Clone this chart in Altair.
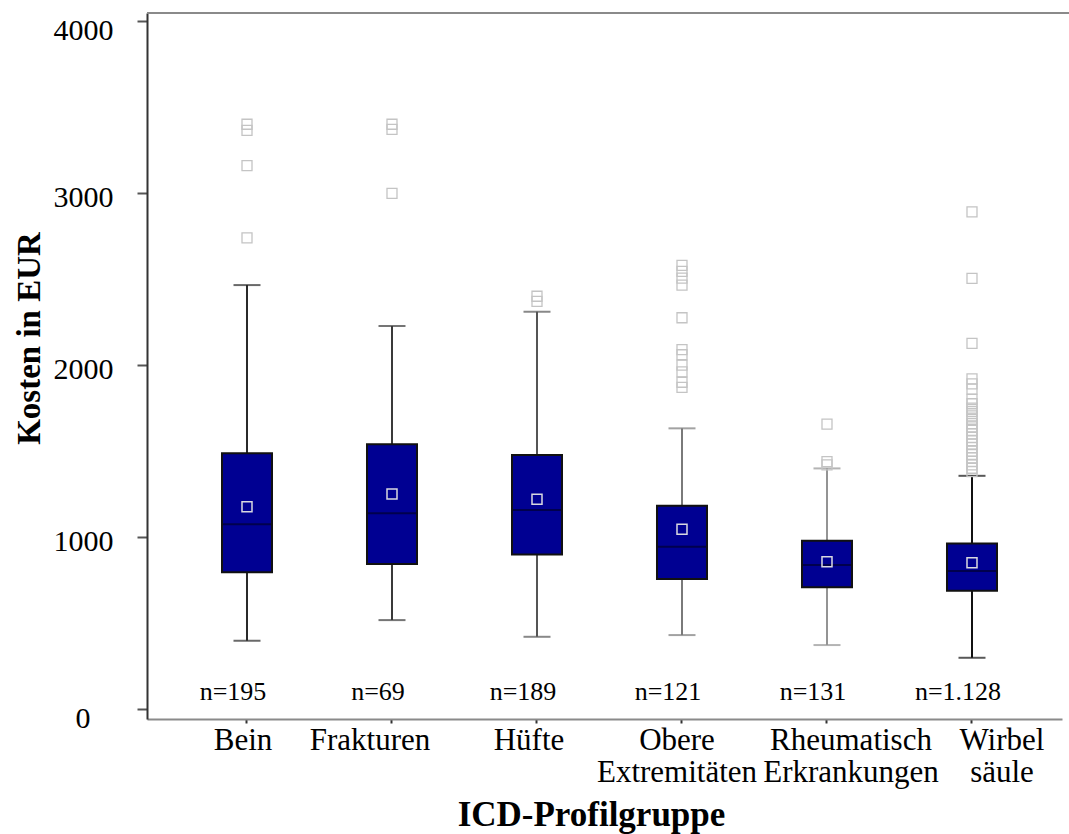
import altair as alt
import pandas as pd

# ---------------- data ----------------
categories = ["Bein", "Frakturen", "Hüfte", "Obere\nExtremitäten",
              "Rheumatisch\nErkrankungen", "Wirbel\nsäule"]
q1 = [795, 843, 899, 756, 708, 688]
q3 = [1487, 1539, 1477, 1182, 978, 963]
median = [1074, 1138, 1157, 944, 837, 802]
mean = [1176, 1250, 1220, 1045, 856, 851]
whisker_low = [397, 517, 420, 430, 372, 298]
whisker_high = [2465, 2227, 2310, 1632, 1399, 1356]
n_labels = ["n=195", "n=69", "n=189", "n=121", "n=131", "n=1.128"]

outliers_bein = [3400, 3365, 3160, 2740]
outliers_frakturen = [3400, 3370, 2998]
outliers_huefte = [2400, 2370]
outliers_obere = [2580, 2545, 2505, 2465, 2275, 2090, 2060, 2000, 1960, 1900, 1870]
outliers_rheuma = [1657, 1438, 1420]
outliers_wirbel = [2891, 2504, 2126, 1920, 1890, 1860, 1800, 1775, 1750, 1730,
                   1705, 1685, 1660, 1640, 1620, 1600, 1580, 1560, 1540, 1520,
                   1500, 1480, 1460, 1440, 1420, 1400, 1380]

y_ticks = [0, 1000, 2000, 3000, 4000]
n_label_level = 100

# ---------------- style ----------------
whisker_colors = ["#2a2a2a", "#3a3a3a", "#555555", "#7a7a7a", "#949494", "#111111"]
FONT = "Liberation Serif"

box_df = pd.DataFrame({
    "cat": categories, "q1": q1, "q3": q3, "median": median, "mean": mean,
    "lo": whisker_low, "hi": whisker_high, "n": n_labels,
})
all_out = [outliers_bein, outliers_frakturen, outliers_huefte,
           outliers_obere, outliers_rheuma, outliers_wirbel]
out_df = pd.DataFrame({
    "cat": [c for c, vals in zip(categories, all_out) for _ in vals],
    "val": [v for vals in all_out for v in vals],
})

# horizontal nudges of the category labels, as in the reference layout
label_nudge = {
    "condition": [
        {"test": "datum.value == 'Bein'", "value": -4},
        {"test": "datum.value == 'Frakturen'", "value": -22},
        {"test": "datum.value == 'Hüfte'", "value": -8},
        {"test": "indexof(datum.value, 'Obere') == 0", "value": -5},
        {"test": "indexof(datum.value, 'Rheumatisch') == 0", "value": 24},
        {"test": "indexof(datum.value, 'Wirbel') == 0", "value": 30},
    ],
    "value": 0,
}

xscale = alt.Scale(domain=categories, paddingInner=0, paddingOuter=0.1552, align=0.611)
xaxis = alt.Axis(
    title="ICD-Profilgruppe", titleFont=FONT, titleFontSize=35, titleFontWeight="bold",
    titleColor="black", titleX=444, titleY=106, titleBaseline="alphabetic", titleAlign="center",
    labelFont=FONT, labelFontSize=31, labelColor="black", labelAngle=0,
    labelPadding=2, labelLineHeight=32, labelOffset=label_nudge,
    labelExpr="split(datum.label, '\\n')",
    domainColor="#8a8a8a", domainWidth=2,
    tickColor="#333333", tickWidth=2, tickSize=4,
)
yscale = alt.Scale(domain=[-58, 4047], nice=False, zero=False)
yaxis = alt.Axis(
    title="Kosten in EUR", titleFont=FONT, titleFontSize=33, titleFontWeight="bold",
    titleColor="black", titleX=-108, titleY=325, titleAngle=270,
    titleBaseline="alphabetic", titleAlign="center",
    values=y_ticks, format="d", grid=False,
    labelFont=FONT, labelFontSize=30, labelColor="black",
    labelPadding={"condition": {"test": "datum.value == 0", "value": 47}, "value": 24},
    labelOffset={"condition": {"test": "datum.value == 0 || datum.value == 4000", "value": 9}, "value": 4},
    domainColor="#333333", domainWidth=2,
    tickColor="#555555", tickWidth=2, tickSize=10,
)


def X():
    return alt.X("cat:N", sort=categories, scale=xscale, axis=xaxis)


def Y(field):
    return alt.Y(field, scale=yscale, axis=yaxis)


wcolor = alt.Color("cat:N", scale=alt.Scale(domain=categories, range=whisker_colors), legend=None)

base = alt.Chart(box_df)

whiskers = base.mark_rule(strokeWidth=2).encode(x=X(), y=Y("lo:Q"), y2="hi:Q", color=wcolor)
cap_lo = base.mark_tick(size=27, thickness=2).encode(x=X(), y=Y("lo:Q"), color=wcolor)
cap_hi = base.mark_tick(size=27, thickness=2).encode(x=X(), y=Y("hi:Q"), color=wcolor)
boxes = base.mark_bar(size=50, color="#000092", stroke="#111111", strokeWidth=2).encode(
    x=X(), y=Y("q1:Q"), y2="q3:Q")
medians = base.mark_tick(size=48, thickness=2, color="#000030").encode(x=X(), y=Y("median:Q"))
means = base.mark_point(shape="square", size=100, filled=False, color="#d8d8e0",
                        strokeWidth=1.5, opacity=1).encode(x=X(), y=Y("mean:Q"))
outs = alt.Chart(out_df).mark_point(shape="square", size=100, filled=False, color="#c4c4c4",
                                    strokeWidth=1.3, opacity=1).encode(x=X(), y=Y("val:Q"))
ntext = base.mark_text(font=FONT, fontSize=26, color="black", dx=-14, baseline="middle").encode(
    x=X(), y=alt.datum(n_label_level), text="n:N")
top_line = alt.Chart(pd.DataFrame({"k": [0]})).mark_rule(color="#8a8a8a", strokeWidth=2).encode(
    x=alt.value(0), x2=alt.value(922), y=alt.value(0))

chart = alt.layer(top_line, whiskers, cap_lo, cap_hi, boxes, medians, means, outs, ntext).properties(
    width=915, height=706,
    autosize=alt.AutoSizeParams(type="none"),
    padding={"left": 147, "top": 13, "right": 7, "bottom": 115},
    background="white",
).configure_view(stroke=None)

chart.save("out.html", embed_options={"renderer": "svg", "actions": False})
